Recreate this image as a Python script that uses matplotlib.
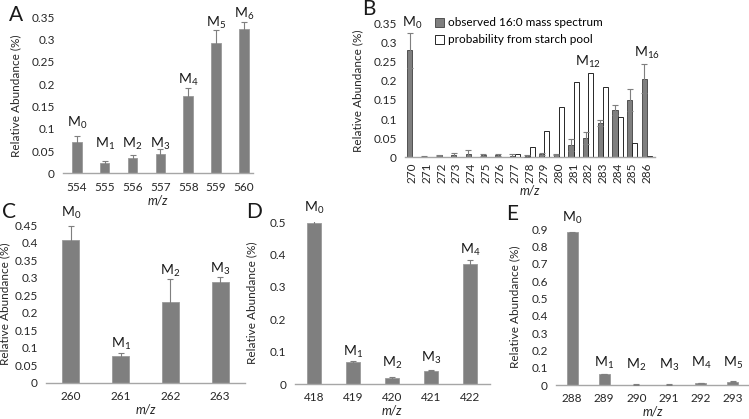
import matplotlib
matplotlib.use("Agg")
import matplotlib.pyplot as plt
from matplotlib.ticker import FuncFormatter
import numpy as np

plt.rcParams['font.family'] = ['Lato', 'DejaVu Sans']
plt.rcParams['mathtext.fontset'] = 'custom'
plt.rcParams['mathtext.rm'] = 'Lato'
plt.rcParams['mathtext.it'] = 'Lato:italic'

# ---- data ----
a_mz = [554, 555, 556, 557, 558, 559, 560]
a_val = [0.070, 0.022, 0.034, 0.044, 0.173, 0.292, 0.324]
a_err = [0.014, 0.005, 0.006, 0.011, 0.018, 0.029, 0.015]
a_lab = ['0', '1', '2', '3', '4', '5', '6']
a_laby = [0.112, 0.066, 0.066, 0.066, 0.209, 0.338, 0.357]

b_mz = list(range(270, 287))
b_obs = [0.279, -0.002, 0.005, 0.005, 0.008, 0.006, 0.006, 0.004, 0.004, 0.008, 0.007,
         0.032, 0.051, 0.090, 0.123, 0.150, 0.205]
b_err = [0.045, 0.006, 0.002, 0.007, 0.012, 0.003, 0.003, 0.005, 0.002, 0.002, 0.002,
         0.015, 0.015, 0.007, 0.013, 0.028, 0.038]
b_prob = [0.0, 0.0, 0.001, 0.001, 0.001, 0.001, 0.001, 0.008, 0.028, 0.070, 0.131,
          0.196, 0.221, 0.183, 0.106, 0.037, 0.004]
b_lab_x = [270, 282, 286]
b_lab = ['0', '12', '16']
b_laby = [0.352, 0.250, 0.272]

c_mz = [260, 261, 262, 263]
c_val = [0.406, 0.077, 0.230, 0.286]
c_err = [0.042, 0.008, 0.065, 0.017]
c_lab = ['0', '1', '2', '3']
c_laby = [0.485, 0.112, 0.319, 0.326]

d_mz = [418, 419, 420, 421, 422]
d_val = [0.499, 0.067, 0.020, 0.041, 0.371]
d_err = [0.008, 0.003, 0.003, 0.002, 0.013]
d_lab = ['0', '1', '2', '3', '4']
d_laby = [0.543, 0.100, 0.064, 0.082, 0.416]

e_mz = [288, 289, 290, 291, 292, 293]
e_val = [0.882, 0.064, 0.002, 0.002, 0.012, 0.019]
e_err = [0.003, 0.002, 0.002, 0.002, 0.002, 0.002]
e_lab = ['0', '1', '2', '3', '4', '5']
e_laby = [0.963, 0.125, 0.116, 0.116, 0.125, 0.125]

BAR = '#7f7f7f'
ERR = '#7f7f7f'
W, H = 749, 419

fig = plt.figure(figsize=(7.49, 4.19), dpi=100)

def px_axes(left, right, top, bottom):
    return fig.add_axes([left / W, 1 - bottom / H, (right - left) / W, (bottom - top) / H])

fmt = FuncFormatter(lambda v, p: f"{v:.2f}".rstrip('0').rstrip('.') if abs(v) > 1e-9 else "0")

def style(ax, yticks, ylim, xlim, xticks, rot=0):
    ax.set_ylim(*ylim)
    ax.set_xlim(*xlim)
    ax.set_yticks(yticks)
    ax.yaxis.set_major_formatter(fmt)
    ax.set_xticks(xticks)
    ax.set_xticklabels([str(x) for x in xticks], rotation=rot)
    for s in ['top', 'right', 'left']:
        ax.spines[s].set_visible(False)
    ax.spines['bottom'].set_color('#a6a6a6')
    ax.spines['bottom'].set_linewidth(1.0)
    ax.tick_params(axis='both', length=0, labelsize=8.5, colors='#262626')
    ax.tick_params(axis='x', pad=6)
    ax.tick_params(axis='y', pad=6)
    ax.set_facecolor('none')

def mlabel(ax, x, l, y):
    ax.text(x, y, f"M$_{{{l}}}$", ha='center', va='center', fontsize=10,
            color='#1a1a1a', clip_on=False)

def simple_panel(ax, mz, val, err, lab, laby):
    ax.bar(mz, val, width=0.34, color=BAR, edgecolor='#9a9a9a', linewidth=0.6, zorder=2)
    ax.errorbar(mz, val, yerr=err, fmt='none', ecolor=ERR, elinewidth=0.8,
                capsize=2.5, capthick=0.8, zorder=3)
    for x, l, y in zip(mz, lab, laby):
        mlabel(ax, x, l, y)

def ylabel(ax, pad):
    ax.set_ylabel('Relative Abundance (%)', fontsize=8.5, color='#262626', labelpad=pad)

def xlabel(ax, pad):
    ax.set_xlabel('m/z', fontsize=9, style='italic', color='#262626', labelpad=pad)

# Panel A
axA = px_axes(63, 253, 17.3, 173.3)
simple_panel(axA, a_mz, a_val, a_err, a_lab, a_laby)
style(axA, np.arange(0, 0.351, 0.05), (0, 0.35), (553.5, 560.33), a_mz)
ylabel(axA, 7)
xlabel(axA, 1)

# Panel B
axB = px_axes(405, 655, 23.3, 157.3)
bw = 0.35
xb = np.array(b_mz)
axB.bar(xb - bw / 2, b_obs, width=bw, color=BAR, edgecolor='#404040', linewidth=0.6,
        zorder=2, label='observed 16:0 mass spectrum')
axB.bar(xb + bw / 2, b_prob, width=bw, color='white', edgecolor='#262626', linewidth=0.7,
        zorder=2, label='probability from starch pool')
axB.errorbar(xb - bw / 2, b_obs, yerr=b_err, fmt='none', ecolor=ERR, elinewidth=0.8,
             capsize=2, capthick=0.8, zorder=3)
for x, l, y in zip(b_lab_x, b_lab, b_laby):
    mlabel(axB, x, l, y)
style(axB, np.arange(0, 0.351, 0.05), (0, 0.35), (269.5, 286.55), b_mz, rot=90)
axB.tick_params(axis='x', pad=4)
ylabel(axB, 7)
xlabel(axB, 1)
leg = axB.legend(loc='upper left', bbox_to_anchor=(0.1, 1.08), frameon=False,
                 fontsize=8.5, handlelength=0.8, handleheight=0.8, handletextpad=0.3,
                 labelspacing=0.5, borderaxespad=0)

# Panel C
axC = px_axes(46, 245, 225, 382.7)
simple_panel(axC, c_mz, c_val, c_err, c_lab, c_laby)
style(axC, np.arange(0, 0.451, 0.05), (0, 0.45), (259.5, 263.5), c_mz)
ylabel(axC, 3)
xlabel(axC, 1)

# Panel D
axD = px_axes(294.5, 489.5, 222.3, 384)
simple_panel(axD, d_mz, d_val, d_err, d_lab, d_laby)
style(axD, np.arange(0, 0.51, 0.1), (0, 0.5), (417.5, 422.5), d_mz)
ylabel(axD, 9)
xlabel(axD, 1)

# Panel E
axE = px_axes(556, 749, 229.3, 385)
simple_panel(axE, e_mz, e_val, e_err, e_lab, e_laby)
style(axE, np.arange(0, 0.91, 0.1), (0, 0.9), (287.5, 293.5), e_mz)
ylabel(axE, 8)
xlabel(axE, 1)

# Panel letters
for lt, x, y in [('A', 9, 15), ('B', 362, 9), ('C', 2, 212), ('D', 246, 212), ('E', 506, 214)]:
    fig.text(x / W, 1 - y / H, lt, fontsize=15, ha='left', va='center', color='#1a1a1a')

fig.savefig('out.png', dpi=100)
